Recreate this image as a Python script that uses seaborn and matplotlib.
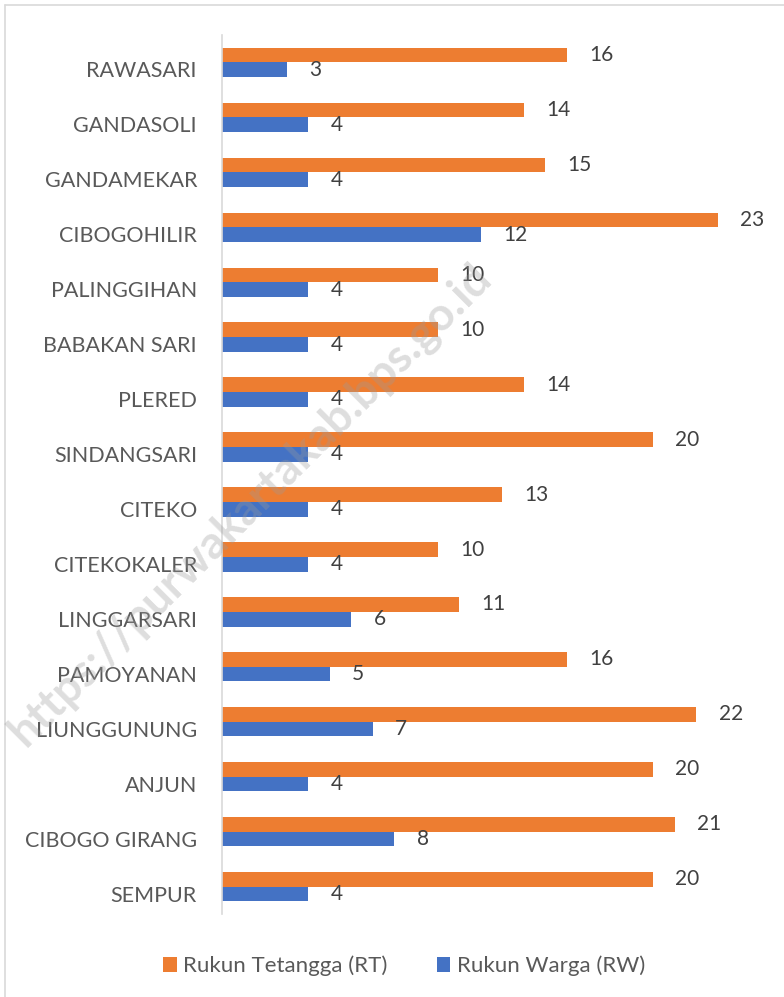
import matplotlib
matplotlib.use("Agg")
import matplotlib.pyplot as plt
import matplotlib.transforms as mtransforms
import seaborn as sns
import pandas as pd
from matplotlib.lines import Line2D
from matplotlib.patches import Patch

categories = ["RAWASARI", "GANDASOLI", "GANDAMEKAR", "CIBOGOHILIR", "PALINGGIHAN",
              "BABAKAN SARI", "PLERED", "SINDANGSARI", "CITEKO", "CITEKOKALER",
              "LINGGARSARI", "PAMOYANAN", "LIUNGGUNUNG", "ANJUN", "CIBOGO GIRANG", "SEMPUR"]
rt_values = [16, 14, 15, 23, 10, 10, 14, 20, 13, 10, 11, 16, 22, 20, 21, 20]
rw_values = [3, 4, 4, 12, 4, 4, 4, 4, 4, 4, 6, 5, 7, 4, 8, 4]
series_names = ["Rukun Tetangga (RT)", "Rukun Warga (RW)"]
colors = ["#ED7D31", "#4472C4"]

df = pd.DataFrame({
    "Desa": categories * 2,
    "Jumlah": rt_values + rw_values,
    "Seri": [series_names[0]] * len(categories) + [series_names[1]] * len(categories),
})

sns.set_theme(style="white")
plt.rcParams["font.family"] = ["Lato", "DejaVu Sans"]

W, H = 784, 997
fig = plt.figure(figsize=(W / 100, H / 100), dpi=100)
ax = fig.add_axes([222 / W, 1 - 914 / H, (761 - 222) / W, (914 - 35) / H])

sns.barplot(data=df, y="Desa", x="Jumlah", hue="Seri", order=categories,
            hue_order=series_names, palette=colors, width=0.535, orient="h",
            saturation=1, ax=ax, legend=False, edgecolor="none")

ax.set_xlim(0, 25)
ax.set_ylim(len(categories) - 0.5, -0.5)
ax.set_xlabel("")
ax.set_ylabel("")
ax.set_xticks([])
for s in ["top", "right", "bottom"]:
    ax.spines[s].set_visible(False)
ax.spines["left"].set_color("#D9D9D9")
ax.spines["left"].set_linewidth(1.2)
ax.tick_params(axis="y", length=0, pad=18, labelsize=15.5, labelcolor="#595959")
offset = mtransforms.ScaledTranslation(0, -7 / 100, fig.dpi_scale_trans)
for lab in ax.get_yticklabels():
    lab.set_transform(lab.get_transform() + offset)

for cont in ax.containers:
    ax.bar_label(cont, padding=16, fontsize=15, color="#404040")

# chart border
fig.add_artist(Line2D([5 / W, 1], [1 - 5 / H, 1 - 5 / H], color="#D9D9D9", lw=1.2))
fig.add_artist(Line2D([5 / W, 5 / W], [0, 1 - 5 / H], color="#D9D9D9", lw=1.2))

# watermark
fig.text(250 / W, 1 - 505 / H, "https://purwakartakab.bps.go.id", rotation=45,
         fontsize=33, color="#9a9a9a", alpha=0.33, ha="center", va="center",
         fontweight="bold", zorder=10)

handles = [Patch(facecolor=c, edgecolor="none") for c in colors]
fig.legend(handles, series_names, loc="center", bbox_to_anchor=(404 / W, 1 - 966 / H),
           ncol=2, frameon=False, fontsize=16, labelcolor="#595959",
           handlelength=0.6, handleheight=0.6, handletextpad=0.3, columnspacing=2.2)

fig.savefig("out.png", dpi=100)
